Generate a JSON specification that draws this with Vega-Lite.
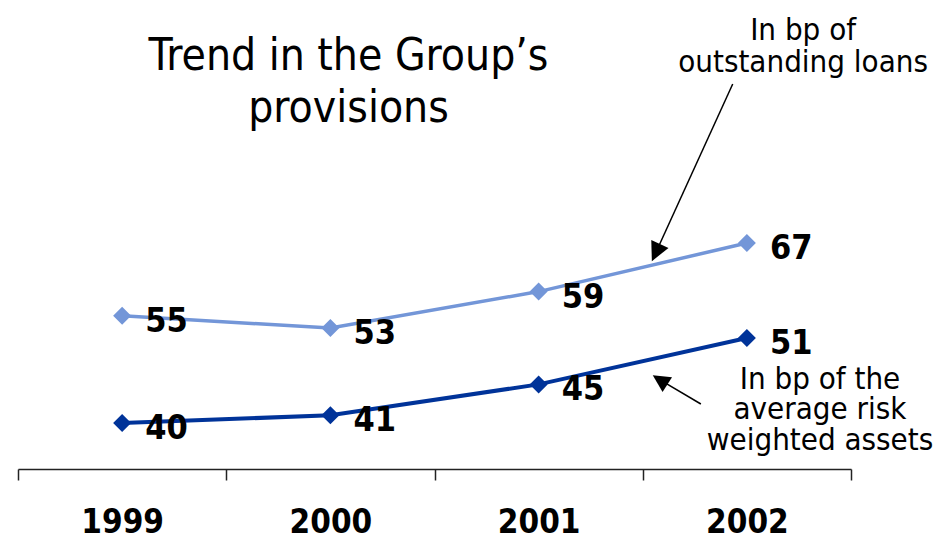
{
  "$schema": "https://vega.github.io/schema/vega-lite/v6.json",
  "width": 833,
  "height": 469,
  "autosize": {"type": "none"},
  "padding": {"left": 18, "top": 0, "right": 85, "bottom": 69},
  "background": "white",
  "config": {
    "view": {"stroke": null},
    "font": "DejaVu Sans Condensed, DejaVu Sans",
    "axis": {"grid": false}
  },
  "title": {
    "text": ["Trend in the Group’s", "provisions"],
    "font": "DejaVu Sans Condensed, DejaVu Sans",
    "fontSize": 44,
    "fontWeight": "normal",
    "color": "black",
    "anchor": "middle",
    "frame": "group",
    "offset": 0,
    "dx": -86,
    "dy": 166.4,
    "baseline": "alphabetic",
    "lineHeight": 52
  },
  "datasets": {
    "series": [
      {"year": "1999", "loans": 55, "rwa": 40},
      {"year": "2000", "loans": 53, "rwa": 41},
      {"year": "2001", "loans": 59, "rwa": 45},
      {"year": "2002", "loans": 67, "rwa": 51}
    ],
    "arrows": [
      {"arrow": "loans", "x": 3.432, "y": 93.2, "x2": 3.063, "y2": 65.43},
      {"arrow": "rwa", "x": 3.279, "y": 40.48, "x2": 3.083, "y2": 44.45}
    ],
    "notes": [
      {"line": "In bp of", "x": 3.77, "y": 100.4},
      {"line": "outstanding loans", "x": 3.77, "y": 95.15},
      {"line": "In bp of the", "x": 3.851, "y": 42.97},
      {"line": "average risk", "x": 3.851, "y": 38.0},
      {"line": "weighted assets", "x": 3.851, "y": 32.97}
    ]
  },
  "layer": [
    {
      "data": {"name": "series"},
      "mark": {"type": "line", "color": "#7396D8", "strokeWidth": 3.5},
      "encoding": {
        "x": {
          "field": "year", "type": "ordinal",
          "scale": {"type": "band", "paddingInner": 0, "paddingOuter": 0},
          "axis": {
            "title": null, "orient": "bottom", "labelAngle": 0,
            "tickBand": "extent", "tickSize": 11, "tickWidth": 1.5, "tickColor": "#222",
            "domainColor": "#222", "domainWidth": 1.5,
            "labelFontSize": 33, "labelFontWeight": "bold", "labelColor": "black",
            "labelFont": "DejaVu Sans Condensed, DejaVu Sans",
            "labelPadding": 26
          }
        },
        "y": {"field": "loans", "type": "quantitative", "scale": {"domain": [29.77, 107.04], "zero": false, "nice": false}, "axis": null}
      }
    },
    {
      "data": {"name": "series"},
      "mark": {"type": "point", "shape": "diamond", "filled": true, "size": 324, "color": "#7396D8", "opacity": 1},
      "encoding": {
        "x": {"field": "year", "type": "ordinal", "scale": {"type": "band", "paddingInner": 0, "paddingOuter": 0}, "axis": null},
        "y": {"field": "loans", "type": "quantitative", "scale": {"domain": [29.77, 107.04], "zero": false, "nice": false}, "axis": null}
      }
    },
    {
      "data": {"name": "series"},
      "mark": {"type": "text", "align": "left", "baseline": "middle", "dx": 23, "dy": 6, "fontSize": 34, "fontWeight": "bold", "color": "black"},
      "encoding": {
        "x": {"field": "year", "type": "ordinal", "scale": {"type": "band", "paddingInner": 0, "paddingOuter": 0}, "axis": null},
        "y": {"field": "loans", "type": "quantitative", "scale": {"domain": [29.77, 107.04], "zero": false, "nice": false}, "axis": null},
        "text": {"field": "loans", "type": "quantitative"}
      }
    },
    {
      "data": {"name": "series"},
      "mark": {"type": "line", "color": "#003399", "strokeWidth": 4},
      "encoding": {
        "x": {"field": "year", "type": "ordinal", "scale": {"type": "band", "paddingInner": 0, "paddingOuter": 0}, "axis": null},
        "y": {"field": "rwa", "type": "quantitative", "scale": {"domain": [34.05, 94.74], "zero": false, "nice": false}, "axis": null}
      }
    },
    {
      "data": {"name": "series"},
      "mark": {"type": "point", "shape": "diamond", "filled": true, "size": 324, "color": "#003399", "opacity": 1},
      "encoding": {
        "x": {"field": "year", "type": "ordinal", "scale": {"type": "band", "paddingInner": 0, "paddingOuter": 0}, "axis": null},
        "y": {"field": "rwa", "type": "quantitative", "scale": {"domain": [34.05, 94.74], "zero": false, "nice": false}, "axis": null}
      }
    },
    {
      "data": {"name": "series"},
      "mark": {"type": "text", "align": "left", "baseline": "middle", "dx": 23, "dy": 6, "fontSize": 34, "fontWeight": "bold", "color": "black"},
      "encoding": {
        "x": {"field": "year", "type": "ordinal", "scale": {"type": "band", "paddingInner": 0, "paddingOuter": 0}, "axis": null},
        "y": {"field": "rwa", "type": "quantitative", "scale": {"domain": [34.05, 94.74], "zero": false, "nice": false}, "axis": null},
        "text": {"field": "rwa", "type": "quantitative"}
      }
    },
    {
      "data": {"name": "arrows"},
      "mark": {"type": "rule", "color": "black", "strokeWidth": 1.5},
      "encoding": {
        "x": {"field": "x", "type": "quantitative", "scale": {"domain": [0, 4], "nice": false, "zero": false}, "axis": null},
        "y": {"field": "y", "type": "quantitative", "scale": {"domain": [29.77, 107.04], "zero": false, "nice": false}, "axis": null},
        "x2": {"field": "x2"},
        "y2": {"field": "y2"}
      }
    },
    {
      "data": {"name": "arrows"},
      "transform": [{"filter": "datum.arrow === 'loans'"}],
      "mark": {"type": "point", "shape": "M0,-1L-1,1L1,1Z", "filled": true, "size": 361, "color": "black", "opacity": 1, "angle": 205},
      "encoding": {
        "x": {"field": "x2", "type": "quantitative", "scale": {"domain": [0, 4], "nice": false, "zero": false}, "axis": null},
        "y": {"field": "y2", "type": "quantitative", "scale": {"domain": [29.77, 107.04], "zero": false, "nice": false}, "axis": null}
      }
    },
    {
      "data": {"name": "arrows"},
      "transform": [{"filter": "datum.arrow === 'rwa'"}],
      "mark": {"type": "point", "shape": "M0,-1L-1,1L1,1Z", "filled": true, "size": 300, "color": "black", "opacity": 1, "angle": 303},
      "encoding": {
        "x": {"field": "x2", "type": "quantitative", "scale": {"domain": [0, 4], "nice": false, "zero": false}, "axis": null},
        "y": {"field": "y2", "type": "quantitative", "scale": {"domain": [29.77, 107.04], "zero": false, "nice": false}, "axis": null}
      }
    },
    {
      "data": {"name": "notes"},
      "mark": {"type": "text", "align": "center", "baseline": "alphabetic", "fontSize": 31, "color": "black"},
      "encoding": {
        "x": {"field": "x", "type": "quantitative", "scale": {"domain": [0, 4], "nice": false, "zero": false}, "axis": null},
        "y": {"field": "y", "type": "quantitative", "scale": {"domain": [29.77, 107.04], "zero": false, "nice": false}, "axis": null},
        "text": {"field": "line", "type": "nominal"}
      }
    }
  ],
  "resolve": {"scale": {"x": "independent", "y": "independent"}}
}
